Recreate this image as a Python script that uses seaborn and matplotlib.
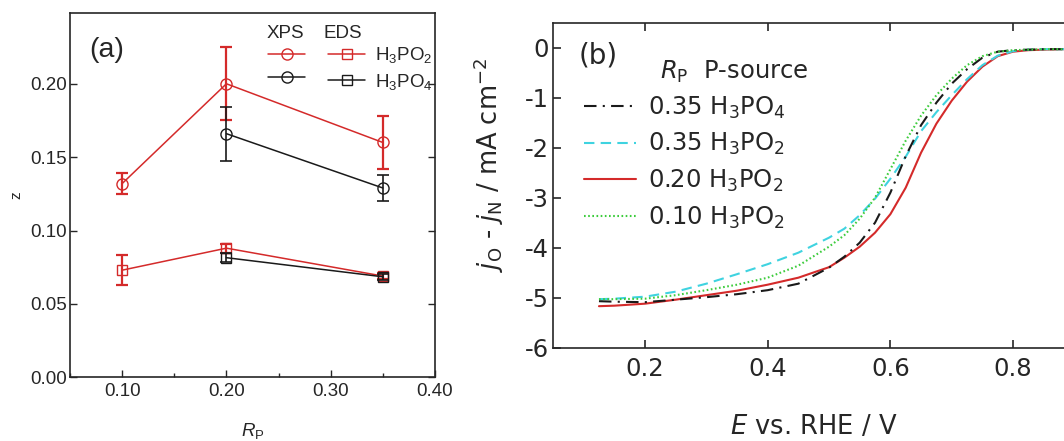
import numpy as np
import pandas as pd
import matplotlib.pyplot as plt
import seaborn as sns
from matplotlib.ticker import MultipleLocator, FormatStrFormatter

# (a) z from XPS / EDS vs R_P
rp_xps_h3po2 = [0.10, 0.20, 0.35]
z_xps_h3po2 = [0.132, 0.200, 0.160]
err_xps_h3po2 = [0.007, 0.025, 0.018]

rp_xps_h3po4 = [0.20, 0.35]
z_xps_h3po4 = [0.166, 0.129]
err_xps_h3po4 = [0.0185, 0.009]

rp_eds_h3po2 = [0.10, 0.20, 0.35]
z_eds_h3po2 = [0.073, 0.088, 0.069]
err_eds_h3po2 = [0.010, 0.003, 0.002]

rp_eds_h3po4 = [0.20, 0.35]
z_eds_h3po4 = [0.0815, 0.0685]
err_eds_h3po4 = [0.003, 0.002]

# (b) jO - jN vs E
potential = [0.125, 0.15, 0.20, 0.25, 0.30, 0.35, 0.40, 0.45, 0.50, 0.525, 0.55, 0.575,
             0.60, 0.625, 0.65, 0.675, 0.70, 0.725, 0.75, 0.775, 0.80, 0.825, 0.85, 0.875, 0.90]
j_035_h3po4 = [-5.07, -5.08, -5.09, -5.04, -4.99, -4.93, -4.85, -4.72, -4.40, -4.18, -3.90, -3.50,
               -2.90, -2.17, -1.55, -1.10, -0.72, -0.43, -0.20, -0.08, -0.05, -0.04, -0.03, -0.03, -0.03]
j_035_h3po2 = [-5.03, -5.02, -4.98, -4.88, -4.72, -4.53, -4.33, -4.10, -3.80, -3.62, -3.35, -3.02,
               -2.62, -2.18, -1.67, -1.29, -0.95, -0.63, -0.35, -0.16, -0.07, -0.04, -0.03, -0.03, -0.03]
j_020_h3po2 = [-5.17, -5.16, -5.12, -5.04, -4.95, -4.86, -4.74, -4.60, -4.39, -4.20, -3.98, -3.70,
               -3.33, -2.80, -2.10, -1.52, -1.06, -0.68, -0.38, -0.17, -0.08, -0.05, -0.04, -0.03, -0.03]
j_010_h3po2 = [-5.03, -5.03, -5.02, -4.95, -4.85, -4.74, -4.60, -4.36, -3.98, -3.75, -3.42, -3.00,
               -2.43, -1.86, -1.36, -0.95, -0.62, -0.35, -0.17, -0.08, -0.05, -0.04, -0.03, -0.03, -0.03]

RED = '#d42a2a'
BLACK = '#1a1a1a'
CYAN = '#3fd3e0'
GREEN = '#3ccc3c'

sns.set_style('ticks')
plt.rcParams['font.family'] = ['Liberation Sans', 'DejaVu Sans']
plt.rcParams['mathtext.fontset'] = 'custom'
plt.rcParams['mathtext.rm'] = 'Liberation Sans'
plt.rcParams['mathtext.it'] = 'Liberation Sans:italic'
plt.rcParams['mathtext.bf'] = 'Liberation Sans:bold'
plt.rcParams['axes.unicode_minus'] = False
plt.rcParams['axes.linewidth'] = 1.2

# panel (b) text is set in a wider face
WIDE = dict(fontfamily='DejaVu Sans', math_fontfamily='dejavusans')


def xps_eds_panel(ax):
    series = [
        (rp_xps_h3po2, z_xps_h3po2, err_xps_h3po2, RED, 'o', 8.0, 1.6),
        (rp_xps_h3po4, z_xps_h3po4, err_xps_h3po4, BLACK, 'o', 8.0, 1.2),
        (rp_eds_h3po2, z_eds_h3po2, err_eds_h3po2, RED, 's', 7.0, 1.6),
        (rp_eds_h3po4, z_eds_h3po4, err_eds_h3po4, BLACK, 's', 7.0, 1.2),
    ]
    handles = []
    for x, y, e, c, m, ms, elw in series:
        sns.lineplot(x=x, y=y, ax=ax, color=c, lw=1.1, marker=m, ms=ms,
                     mfc='none', mec=c, mew=1.0, errorbar=None)
        handles.append(ax.lines[-1])
        ax.errorbar(x, y, yerr=e, fmt='none', ecolor=c, elinewidth=elw,
                    capsize=4.2, capthick=elw)

    ax.set_xlim(0.05, 0.40)
    ax.set_ylim(0, 0.248)
    ax.xaxis.set_major_locator(MultipleLocator(0.1))
    ax.xaxis.set_minor_locator(MultipleLocator(0.05))
    ax.yaxis.set_major_locator(MultipleLocator(0.05))
    ax.xaxis.set_major_formatter(FormatStrFormatter('%.2f'))
    ax.yaxis.set_major_formatter(FormatStrFormatter('%.2f'))
    ax.tick_params(which='both', direction='in', right=True, top=False, labelsize=13.5)
    ax.tick_params(which='major', length=5, width=1.0)
    ax.tick_params(which='minor', length=3, width=1.0)
    ax.tick_params(axis='x', pad=4)
    ax.tick_params(axis='y', pad=2.4)

    ax.set_xlabel('$R_\\mathrm{P}$', fontsize=13.5)
    ax.xaxis.set_label_coords(0.5, -0.12)
    ax.set_ylabel('z', fontsize=11)
    ax.yaxis.set_label_coords(-0.129, 0.5)

    ax.text(0.052, 0.90, '(a)', transform=ax.transAxes, fontsize=20.5, va='center', ha='left')
    ax.text(0.589, 0.944, 'XPS', transform=ax.transAxes, fontsize=13.5, va='center', ha='center')
    ax.text(0.748, 0.944, 'EDS', transform=ax.transAxes, fontsize=13.5, va='center', ha='center')
    ax.legend(handles=handles, labels=['', '', 'H$_3$PO$_2$', 'H$_3$PO$_4$'], ncol=2,
              loc='upper left', bbox_to_anchor=(0.5425, 0.912), frameon=False,
              fontsize=13.5, handlelength=2.0, handletextpad=0.5, columnspacing=0.7,
              borderpad=0, borderaxespad=0, labelspacing=0.35)


def orr_panel(ax):
    curves = [
        (j_020_h3po2, RED, '-', '0.20 H$_3$PO$_2$'),
        (j_035_h3po2, CYAN, (0, (5, 3)), '0.35 H$_3$PO$_2$'),
        (j_035_h3po4, BLACK, (0, (6, 3, 1, 3)), '0.35 H$_3$PO$_4$'),
        (j_010_h3po2, GREEN, (0, (0.8, 1.2)), '0.10 H$_3$PO$_2$'),
    ]
    handles = {}
    for j, c, ls, lab in curves:
        sns.lineplot(x=potential, y=j, ax=ax, color=c, linestyle=ls, lw=1.5,
                     errorbar=None, sort=False)
        handles[lab] = ax.lines[-1]

    ax.set_xlim(0.05, 0.90)
    ax.set_ylim(-6, 0.5)
    ax.xaxis.set_major_locator(MultipleLocator(0.2))
    ax.yaxis.set_major_locator(MultipleLocator(1))
    ax.xaxis.set_major_formatter(FormatStrFormatter('%.1f'))
    ax.yaxis.set_major_formatter(FormatStrFormatter('%d'))
    ax.tick_params(direction='in', top=True, right=False, labelsize=17.5, length=6, width=1.2,
                   labelfontfamily='DejaVu Sans')
    ax.tick_params(axis='x', pad=7)
    ax.tick_params(axis='y', pad=3.2)
    sns.despine(ax=ax, right=True, top=False)

    ax.set_xlabel('$E$ vs. RHE / V', fontsize=18.5, **WIDE)
    ax.xaxis.set_label_coords(0.5, -0.205)
    ax.set_ylabel('$j_\\mathrm{O}$ - $j_\\mathrm{N}$ / mA cm$^{-2}$', fontsize=18.5, **WIDE)
    ax.yaxis.set_label_coords(-0.090, 0.562)

    ax.text(0.05, 0.90, '(b)', transform=ax.transAxes, fontsize=20, va='center', ha='left', **WIDE)
    ax.text(0.205, 0.848, '$R_\\mathrm{P}$  P-source', transform=ax.transAxes,
            fontsize=17.5, va='center', ha='left', **WIDE)
    order = ['0.35 H$_3$PO$_4$', '0.35 H$_3$PO$_2$', '0.20 H$_3$PO$_2$', '0.10 H$_3$PO$_2$']
    ax.legend(handles=[handles[k] for k in order], labels=order, loc='upper left',
              bbox_to_anchor=(0.059, 0.779), frameon=False,
              prop={'family': 'DejaVu Sans', 'size': 17.5, 'math_fontfamily': 'dejavusans'},
              handlelength=2.14, handletextpad=0.5, borderpad=0, borderaxespad=0,
              labelspacing=0.43)


fig = plt.figure(figsize=(10.64, 4.41), dpi=100)
ax_a = fig.add_axes([0.0658, 0.1444, 0.3430, 0.8254])
ax_b = fig.add_axes([0.5197, 0.2116, 0.4901, 0.7370])
xps_eds_panel(ax_a)
orr_panel(ax_b)
fig.savefig('out.png', dpi=100)
